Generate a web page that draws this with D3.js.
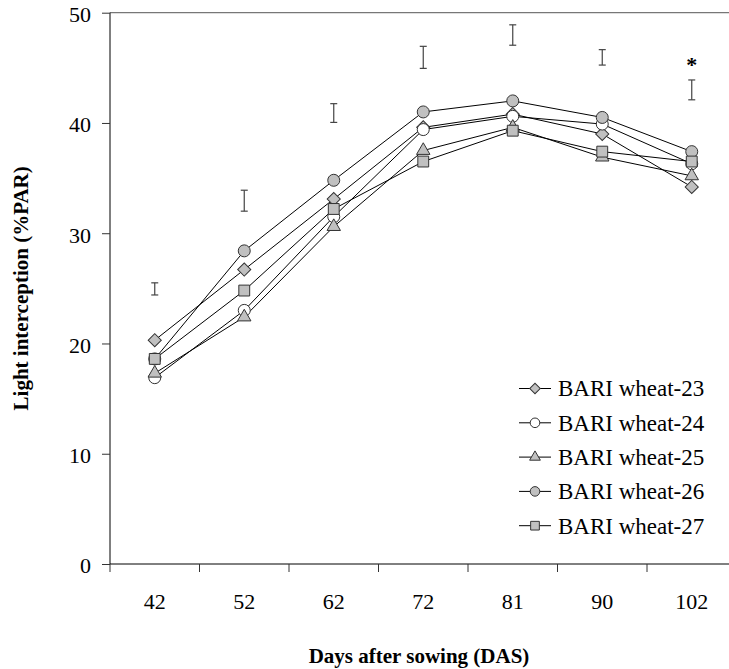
<!DOCTYPE html>
<html>
<head>
<meta charset="utf-8">
<script src="https://cdn.jsdelivr.net/npm/d3@7/dist/d3.min.js"></script>
<style>
  html, body { margin: 0; padding: 0; background: #fff; }
  svg { display: block; }
  text { font-family: "Liberation Serif", "Times New Roman", serif; fill: #000; }
</style>
</head>
<body>
<svg id="chart" width="729" height="669"></svg>
<script>
// Sampling dates (days after sowing)
const categories = ["42", "52", "62", "72", "81", "90", "102"];

// Light interception (%PAR) by variety
const seriesNames = ["BARI wheat-23", "BARI wheat-24", "BARI wheat-25", "BARI wheat-26", "BARI wheat-27"];
const wheat23 = [20.3, 26.7, 33.1, 39.6, 40.8, 39.0, 34.2];
const wheat24 = [16.9, 23.0, 31.5, 39.4, 40.6, 39.9, 36.3];
const wheat25 = [17.3, 22.4, 30.6, 37.5, 39.6, 36.9, 35.2];
const wheat26 = [18.6, 28.4, 34.8, 41.0, 42.0, 40.5, 37.4];
const wheat27 = [18.6, 24.8, 32.2, 36.5, 39.3, 37.4, 36.5];

// LSD bars per date (lower / upper end) and significance marks
const lsdLow  = [24.4, 32.0, 40.05, 44.95, 47.05, 45.25, 42.1];
const lsdHigh = [25.5, 33.9, 41.75, 46.95, 48.9, 46.65, 43.9];
const signif  = ["", "", "", "", "", "", "*"];

const yTicks = [0, 10, 20, 30, 40, 50];

const seriesValues = [wheat23, wheat24, wheat25, wheat26, wheat27];
const markerStyles = [
  { shape: "diamond",  fill: "#c0c0c0" },
  { shape: "circle",   fill: "#ffffff" },
  { shape: "triangle", fill: "#c0c0c0" },
  { shape: "circle",   fill: "#c0c0c0" },
  { shape: "square",   fill: "#c0c0c0" }
];

const svg = d3.select("#chart");
const plotLeft = 110, plotRight = 736.5, plotTop = 12.7, plotBottom = 564;
const serif = '"Liberation Serif", "Times New Roman", serif';

const x = d3.scaleBand().domain(categories).range([plotLeft, plotRight]).padding(0);
const y = d3.scaleLinear().domain([0, 50]).range([plotBottom, plotTop]);
const cx = c => x(c) + x.bandwidth() / 2;

function symbolPath(shape, scale) {
  const s = scale || 1;
  switch (shape) {
    case "diamond":  return d3.symbol(d3.symbolSquare, 86 * s * s)();
    case "triangle": return d3.symbol(d3.symbolTriangle, 78 * s * s)();
    case "square":   return d3.symbol(d3.symbolSquare, 118 * s * s)();
    default:         return d3.symbol(d3.symbolCircle, 113 * s * s)();
  }
}
function symbolRotate(shape) { return shape === "diamond" ? " rotate(45)" : ""; }

// Top frame line
svg.append("line")
  .attr("x1", plotLeft).attr("x2", 729).attr("y1", plotTop).attr("y2", plotTop)
  .attr("stroke", "#777").attr("stroke-width", 1.3);

// Y axis
const yAxis = svg.append("g")
  .attr("transform", `translate(${plotLeft},0)`)
  .call(d3.axisLeft(y).tickValues(yTicks).tickSize(8).tickPadding(11).tickFormat(d3.format("d")));
yAxis.attr("font-family", null);
yAxis.select(".domain").attr("stroke", "#000").attr("d", `M0,${plotTop}V${plotBottom}`);
yAxis.selectAll(".tick line").attr("stroke", "#333");
yAxis.selectAll(".tick text")
  .attr("font-size", 22).attr("dy", "0.4em")
  .style("font-family", serif).attr("fill", "#000");

// X axis: labels centred in each band, ticks on band edges
const xAxis = svg.append("g")
  .attr("transform", `translate(0,${plotBottom})`)
  .call(d3.axisBottom(x).tickSize(0).tickPadding(29));
xAxis.attr("font-family", null);
xAxis.select(".domain").attr("stroke", "#000").attr("d", `M${plotLeft},0H${plotRight}`);
xAxis.selectAll(".tick text")
  .attr("font-size", 22).attr("dy", "0.71em")
  .style("font-family", serif).attr("fill", "#000");
xAxis.selectAll("line.edge")
  .data(categories)
  .join("line")
  .attr("class", "edge")
  .attr("x1", d => x(d)).attr("x2", d => x(d))
  .attr("y1", 0).attr("y2", 8)
  .attr("stroke", "#333");

// Axis titles
svg.append("text")
  .attr("transform", `translate(21,${(plotTop + plotBottom) / 2}) rotate(-90)`)
  .attr("text-anchor", "middle").attr("dy", "0.35em")
  .attr("font-size", 21).attr("font-weight", "bold")
  .text("Light interception (%PAR)");
svg.append("text")
  .attr("x", 419).attr("y", 663)
  .attr("text-anchor", "middle")
  .attr("font-size", 21).attr("font-weight", "bold")
  .text("Days after sowing (DAS)");

// LSD bars
const bars = svg.append("g").attr("stroke", "#444").attr("stroke-width", 1.2);
categories.forEach((c, i) => {
  const xc = cx(c);
  bars.append("line").attr("x1", xc).attr("x2", xc).attr("y1", y(lsdLow[i])).attr("y2", y(lsdHigh[i]));
  bars.append("line").attr("x1", xc - 3.5).attr("x2", xc + 3.5).attr("y1", y(lsdLow[i])).attr("y2", y(lsdLow[i]));
  bars.append("line").attr("x1", xc - 3.5).attr("x2", xc + 3.5).attr("y1", y(lsdHigh[i])).attr("y2", y(lsdHigh[i]));
});
svg.selectAll("text.sig")
  .data(categories.map((c, i) => ({ c, s: signif[i], v: lsdHigh[i] })).filter(d => d.s))
  .join("text")
  .attr("class", "sig")
  .attr("x", d => cx(d.c)).attr("y", d => y(d.v) - 8)
  .attr("text-anchor", "middle")
  .attr("font-size", 22).attr("font-weight", "bold")
  .text(d => d.s);

// Series lines and markers
const line = d3.line().x((d, i) => cx(categories[i])).y(d => y(d));
seriesValues.forEach((vals) => {
  svg.append("path")
    .attr("d", line(vals))
    .attr("fill", "none").attr("stroke", "#000").attr("stroke-width", 1);
});
seriesValues.forEach((vals, k) => {
  const st = markerStyles[k];
  svg.append("g").selectAll("path")
    .data(vals)
    .join("path")
    .attr("d", symbolPath(st.shape))
    .attr("transform", (d, i) => `translate(${cx(categories[i])},${y(d)})${symbolRotate(st.shape)}`)
    .attr("fill", st.fill).attr("stroke", "#333").attr("stroke-width", 1);
});

// Legend
const legend = svg.append("g");
const legendY = [388.5, 422.8, 457.1, 491.4, 525.7];
seriesNames.forEach((name, k) => {
  const st = markerStyles[k];
  const g = legend.append("g").attr("transform", `translate(0,${legendY[k]})`);
  g.append("line").attr("x1", 519).attr("x2", 551).attr("y1", 0).attr("y2", 0)
    .attr("stroke", "#000").attr("stroke-width", 1);
  g.append("path")
    .attr("d", symbolPath(st.shape, 0.8))
    .attr("transform", `translate(535,0)${symbolRotate(st.shape)}`)
    .attr("fill", st.fill).attr("stroke", "#333").attr("stroke-width", 1);
  g.append("text")
    .attr("x", 558).attr("y", 0).attr("dy", "0.34em")
    .attr("font-size", 23)
    .text(name);
});
</script>
</body>
</html>
